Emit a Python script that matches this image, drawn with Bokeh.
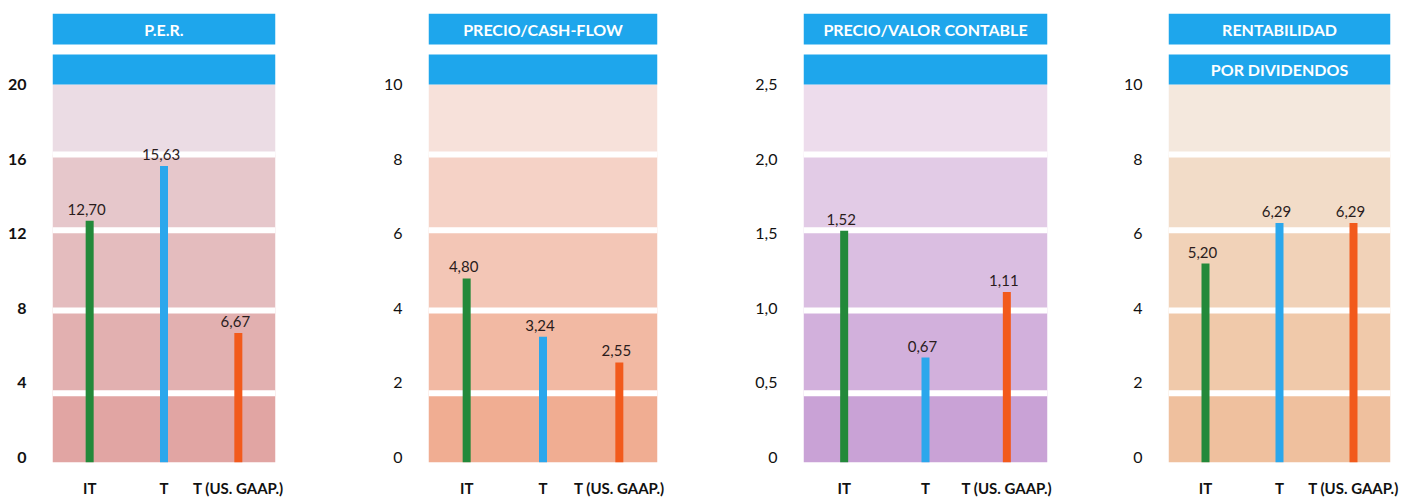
from bokeh.plotting import figure
from bokeh.models import FactorRange, Range1d, BoxAnnotation, Span, FixedTicker, ColumnDataSource
from bokeh.layouts import row
from bokeh.embed import file_html
from bokeh.resources import INLINE
from bokeh.core.properties import value

# ---------------- data ----------------
categories = ["IT", "T", "T (US. GAAP.)"]
series_colors = ["#23893a", "#2ba7ec", "#f25a1c"]

per_values = [12.70, 15.63, 6.67]
per_labels = ["12,70", "15,63", "6,67"]
per_ticks = [0, 4, 8, 12, 16, 20]
per_tick_labels = ["0", "4", "8", "12", "16", "20"]

pcf_values = [4.80, 3.24, 2.55]
pcf_labels = ["4,80", "3,24", "2,55"]
pcf_ticks = [0, 2, 4, 6, 8, 10]
pcf_tick_labels = ["0", "2", "4", "6", "8", "10"]

pvc_values = [1.52, 0.67, 1.11]
pvc_labels = ["1,52", "0,67", "1,11"]
pvc_ticks = [0, 0.5, 1.0, 1.5, 2.0, 2.5]
pvc_tick_labels = ["0", "0,5", "1,0", "1,5", "2,0", "2,5"]

rpd_values = [5.20, 6.29, 6.29]
rpd_labels = ["5,20", "6,29", "6,29"]
rpd_ticks = [0, 2, 4, 6, 8, 10]
rpd_tick_labels = ["0", "2", "4", "6", "8", "10"]

header_top = ["P.E.R.", "PRECIO/CASH-FLOW", "PRECIO/VALOR CONTABLE", "RENTABILIDAD"]
header_bottom = ["", "", "", "POR DIVIDENDOS"]

# ---------------- style ----------------
FONT = "Lato"
HEADER_BLUE = "#1ea6ec"
band_palettes = [
    ["#e1a5a3", "#e2b0b0", "#e4bcbe", "#e6c7cb", "#ebdce4"],
    ["#f0ad92", "#f2b9a3", "#f3c6b6", "#f5d2c6", "#f7e1da"],
    ["#c9a2d6", "#d2b0dc", "#dabee1", "#e2cbe6", "#eddcec"],
    ["#efc09e", "#f0c9aa", "#f1d2b8", "#f2dcc8", "#f4e8dd"],
]
band_edges_frac = [0.0, 0.172, 0.394, 0.609, 0.812, 1.0]

panels = [
    dict(vals=per_values, labs=per_labels, ticks=per_ticks, tlabs=per_tick_labels, ymax=20,
         w=378, left=52, right=103, bold=True),
    dict(vals=pcf_values, labs=pcf_labels, ticks=pcf_ticks, tlabs=pcf_tick_labels, ymax=10,
         w=370, left=50, right=91, bold=False),
    dict(vals=pvc_values, labs=pvc_labels, ticks=pvc_ticks, tlabs=pvc_tick_labels, ymax=2.5,
         w=370, left=55, right=71, bold=False),
    dict(vals=rpd_values, labs=rpd_labels, ticks=rpd_ticks, tlabs=rpd_tick_labels, ymax=10,
         w=282, left=50, right=10, bold=False),
]

H = 499
TOP = 13
FRAME_H = 449
BOTTOM = H - TOP - FRAME_H
PX_DATA = 373.0   # pixels from 0 to max
figs = []
for i, pn in enumerate(panels):
    ymax = pn["ymax"]
    s = PX_DATA / ymax
    y0 = -5.0 / s
    y1 = ymax + 71.0 / s
    p = figure(width=pn["w"], height=H, x_range=FactorRange(*categories, range_padding=0),
               y_range=Range1d(y0, y1), output_backend="svg", toolbar_location=None,
               min_border_left=pn["left"], min_border_right=pn["right"],
               min_border_top=TOP, min_border_bottom=BOTTOM)
    p.outline_line_color = None
    p.grid.visible = False
    p.background_fill_color = "white"
    p.border_fill_color = "white"

    # background bands
    pal = band_palettes[i]
    for k in range(5):
        b = BoxAnnotation(bottom=(y0 if k == 0 else band_edges_frac[k] * ymax),
                          top=band_edges_frac[k + 1] * ymax,
                          fill_color=pal[k], fill_alpha=1, line_color=None, level="underlay")
        p.add_layout(b)
    for k in range(1, 5):
        p.add_layout(Span(location=band_edges_frac[k] * ymax, dimension="width",
                          line_color="white", line_width=6, level="underlay"))
    # header bars
    p.add_layout(BoxAnnotation(bottom=ymax, top=ymax + 30.0 / s, fill_color=HEADER_BLUE,
                               fill_alpha=1, line_color=None, level="underlay"))
    p.add_layout(BoxAnnotation(bottom=ymax + 40.0 / s, top=y1, fill_color=HEADER_BLUE,
                               fill_alpha=1, line_color=None, level="underlay"))
    p.text(x=["T"], y=[ymax + 55.5 / s], text=[header_top[i]], text_color="white",
           text_font=value(FONT), text_font_style="bold", text_font_size="16px",
           text_align="center", text_baseline="middle")
    if header_bottom[i]:
        p.text(x=["T"], y=[ymax + 15.0 / s], text=[header_bottom[i]], text_color="white",
               text_font=value(FONT), text_font_style="bold", text_font_size="16px",
               text_align="center", text_baseline="middle")

    # lines
    src = ColumnDataSource(dict(x=categories, y0=[y0] * 3, y1=pn["vals"],
                                c=series_colors, lab=pn["labs"]))
    p.segment(x0="x", y0="y0", x1="x", y1="y1", color="c", line_width=8, source=src)
    p.text(x="x", y="y1", text="lab", source=src, text_font=value(FONT),
           text_font_size="15px", text_color="#2a1c1c", text_align="center",
           text_baseline="bottom", y_offset=-6, x_offset=-3)

    # axes
    p.yaxis.ticker = FixedTicker(ticks=pn["ticks"])
    p.yaxis.major_label_overrides = {t: l for t, l in zip(pn["ticks"], pn["tlabs"])}
    for ax in (p.xaxis, p.yaxis):
        ax.axis_line_color = None
        ax.major_tick_line_color = None
        ax.minor_tick_line_color = None
        ax.major_label_text_font = FONT
        ax.major_label_text_color = "#111111"
    p.yaxis.major_label_text_font_size = "16px"
    p.xaxis.major_label_text_font_size = "15px"
    p.yaxis.major_label_standoff = 20
    p.yaxis.major_label_text_font_style = "bold" if pn["bold"] else "normal"
    p.xaxis.major_label_standoff = 10
    p.xaxis.major_label_text_font_style = "bold"
    figs.append(p)

layout = row(*figs, spacing=0)
open("out.html", "w").write(file_html(layout, INLINE))
